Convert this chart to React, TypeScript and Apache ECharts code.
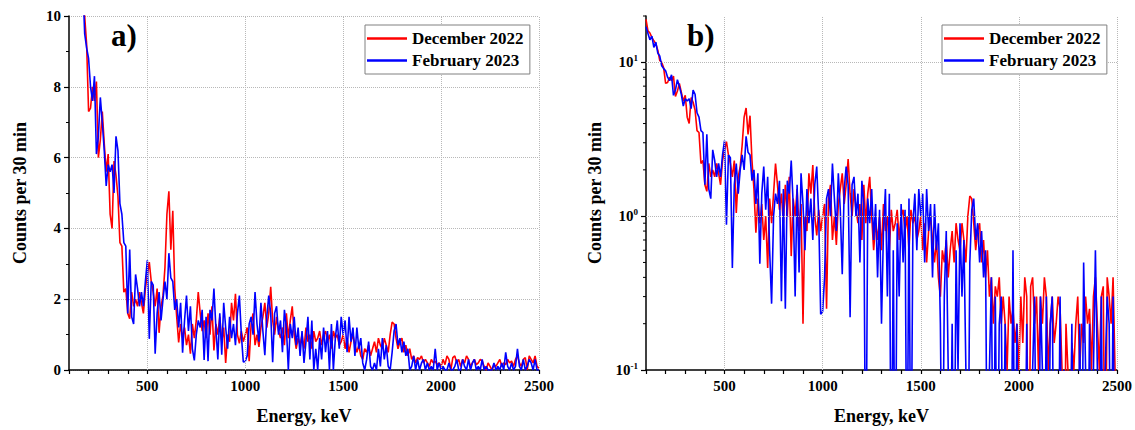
import React, { useEffect, useRef } from "react";
import * as echarts from "echarts";

// Energy bins: 100 keV .. 2500 keV, 10 keV step
const E_START = 100;
const E_STEP = 10;

// December 2022 (red), counts per 30 min
const DEC_2022 = [
  19, 16, 15.5, 14.5, 13.8, 13.2, 12, 10.3, 10.0, 9.2,
  7.3, 7.4, 8.0, 7.6, 8.15, 6.0, 6.5, 7.3, 6.4, 5.6,
  6.1, 4.4, 4.0, 5.9, 5.5, 4.9, 3.6, 3.5, 2.2, 2.3,
  1.6, 1.45, 2.2, 1.8, 2.0, 1.8, 2.2, 1.9, 1.6, 2.3,
  2.7, 3.05, 2.5, 2.2, 1.8, 2.3, 1.05, 1.8, 2.1, 2.9,
  4.4, 5.05, 3.4, 4.5, 2.3, 1.5, 0.78, 1.3, 0.9, 1.2,
  0.7, 1.0, 0.46, 1.3, 0.9, 1.4, 2.2, 1.6, 1.1, 1.4,
  0.9, 1.6, 1.0, 1.8, 0.55, 1.3, 1.0, 1.5, 0.8, 1.2,
  0.2, 1.0, 0.8, 1.9, 1.4, 2.15, 1.0, 0.75, 1.1, 0.8,
  1.0, 1.2, 0.25, 1.3, 1.6, 0.7, 1.0, 0.65, 1.2, 1.5,
  1.9, 1.2, 1.6, 2.35, 1.4, 1.0, 1.5, 1.1, 0.9, 1.2,
  0.7, 1.6, 0.9, 1.4, 1.8, 1.0, 0.6, 0.9, 0.7, 1.0,
  0.6, 1.2, 0.8, 1.0, 0.6, 1.1, 0.8, 0.9, 1.1, 0.7,
  1.0, 1.1, 0.8, 1.0, 0.6, 1.1, 0.9, 1.0, 0.7, 0.8,
  1.0, 0.6, 0.9, 0.5, 0.8, 1.0, 0.7, 0.5, 0.7, 0.4,
  0.3, 0.6, 0.5, 0.7, 0.4, 0.6, 0.8, 0.5, 0.9, 0.7,
  0.6, 0.9, 0.7, 0.5, 1.0, 1.35, 1.3, 0.9, 0.6, 0.8,
  0.9, 0.5, 0.7, 0.4, 0.6, 0.3, 0.4, 0.2, 0.35, 0.3,
  0.4, 0.2, 0.3, 0.2, 0.1, 0.3, 0.2, 0.25, 0.15, 0.2,
  0.1, 0.3, 0.15, 0.4, 0.3, 0.0, 0.35, 0.4, 0.2, 0.3,
  0.1, 0.3, 0.2, 0.4, 0.3, 0.1, 0.2, 0.3, 0.15, 0.2,
  0.3, 0.25, 0.1, 0.0, 0.2, 0.1, 0.0, 0.15, 0.1, 0.2,
  0.3, 0.1, 0.2, 0.15, 0.3, 0.2, 0.25, 0.1, 0.3, 0.4,
  0.2, 0.1, 0.3, 0.35, 0.0, 0.4, 0.3, 0.2, 0.4, 0.1,
  0.05,
];

// February 2023 (blue), counts per 30 min
const FEB_2023 = [
  17, 15.4, 14, 14.8, 12.5, 13.5, 11.5, 11, 9.5, 9.1,
  8.8, 8.0, 7.6, 8.3, 6.1, 6.6, 7.7, 7.0, 6.2, 5.2,
  5.8, 5.6, 5.8, 5.0, 6.6, 6.2, 4.7, 4.4, 3.6, 3.5,
  1.6, 3.4, 1.5, 1.3, 2.7, 2.3, 1.8, 2.2, 1.8, 2.5,
  3.1, 0.88, 2.5, 2.4, 0.46, 1.6, 2.2, 1.4, 2.0, 2.5,
  2.0, 3.3, 2.6, 2.5, 1.7, 2.0, 1.2, 1.9, 0.49, 1.4,
  2.1, 1.1, 1.8, 0.6, 0.27, 1.0, 1.4, 1.2, 1.7, 0.28,
  1.5, 0.25, 1.7, 1.4, 2.3, 1.2, 0.3, 1.6, 0.43, 1.9,
  1.2, 0.6, 1.5, 0.9, 1.3, 0.7, 1.6, 2.1, 1.0, 0.23,
  0.24, 0.4, 1.3, 1.5, 1.0, 2.2, 1.3, 0.8, 1.9, 1.1,
  0.42, 1.5, 2.1, 1.6, 0.22, 1.6, 1.8, 1.0, 1.4, 0.5,
  1.7, 1.2, 0.0, 1.3, 0.9, 1.5, 0.7, 1.2, 0.4, 1.1,
  0.2, 0.8, 1.5, 0.3, 1.4, 0.0, 0.6, 0.0, 0.9, 0.3,
  1.2, 0.5, 1.1, 0.0, 1.3, 0.0, 0.9, 1.4, 0.6, 1.5,
  1.0, 1.4, 0.5, 1.5, 0.8, 1.2, 0.4, 1.2, 0.6, 0.9,
  0.2, 0.0, 0.3, 0.8, 0.1, 0.0, 0.2, 0.0, 0.6, 0.1,
  0.9, 0.3, 0.7, 0.1, 0.0, 0.5, 1.1, 1.3, 0.7, 0.9,
  0.5, 0.8, 0.4, 0.6, 0.0, 0.1, 0.4, 0.0, 0.3, 0.0,
  0.2, 0.3, 0.0, 0.2, 0.0, 0.1, 0.0, 0.6, 0.0, 0.2,
  0.0, 0.1, 0.0, 0.0, 0.2, 0.0, 0.0, 0.1, 0.3, 0.0,
  0.0, 0.3, 0.1, 0.0, 0.3, 0.0, 0.2, 0.3, 0.0, 0.1,
  0.0, 0.3, 0.0, 0.1, 0.0, 0.0, 0.0, 0.2, 0.0, 0.1,
  0.0, 0.2, 0.0, 0.5, 0.1, 0.0, 0.2, 0.0, 0.1, 0.6,
  0.1, 0.0, 0.3, 0.0, 0.1, 0.3, 0.2, 0.0, 0.3, 0.0,
  0.0,
];

const X_LABELS = [500, 1000, 1500, 2000, 2500];
const LOG_MINOR = [0.2, 0.3, 0.4, 0.5, 0.6, 0.7, 0.8, 0.9, 2, 3, 4, 5, 6, 7, 8, 9, 20];
const LOG_GRID = [1, 10];
const NAMES = ["December 2022", "February 2023"];

const FONT = '"Liberation Serif", "Times New Roman", serif';
const RED = "#ff0000";
const BLUE = "#0000ff";
const GRID_LINE = { type: "dotted", color: "#b8b8b8", width: 1 };

export default function App() {
  const ref = useRef<HTMLDivElement>(null);

  useEffect(() => {
    document.body.style.margin = "0";
    if (!ref.current) return;
    const chart = echarts.init(ref.current, undefined, { renderer: "svg" });

    const energies = DEC_2022.map((_, i) => E_START + i * E_STEP);
    const lin = (arr: number[]) => arr.map((v, i) => [energies[i], v]);
    const logd = (arr: number[]) => arr.map((v, i) => [energies[i], v > 0 ? v : 0.01]);

    const axisLine = { show: true, lineStyle: { color: "#000", width: 1.5 } };
    const labelStyle = { color: "#000", fontFamily: FONT, fontWeight: "bold" as const, fontSize: 15 };
    const nameStyle = { color: "#000", fontFamily: FONT, fontWeight: "bold" as const, fontSize: 18 };

    const xAxisBase = (gridIndex: number) => ({
      type: "value",
      gridIndex,
      min: 100,
      max: 2500,
      interval: 100,
      name: "Energy, keV",
      nameLocation: "middle",
      nameGap: 37,
      nameTextStyle: nameStyle,
      axisLine: { ...axisLine, onZero: false },
      axisTick: { show: true, inside: false, length: 4, lineStyle: { color: "#000", width: 1.2 } },
      axisLabel: {
        ...labelStyle,
        margin: 8,
        formatter: (v: number) => (X_LABELS.includes(v) ? String(v) : ""),
        showMinLabel: true,
        showMaxLabel: true,
      },
      splitLine: { show: false },
    });

    const vGridLines = X_LABELS.map((v) => ({ xAxis: v }));
    const hGridLines = LOG_GRID.map((v) => ({ yAxis: v }));

    const legendBase = (left: number) => ({
      show: true,
      data: NAMES,
      orient: "vertical",
      left,
      top: 25,
      z: 20,
      icon: "rect",
      itemWidth: 40,
      itemHeight: 2.5,
      itemGap: 5,
      padding: [5, 6, 5, 2],
      borderColor: "#808080",
      borderWidth: 1,
      backgroundColor: "#fff",
      textStyle: { color: "#000", fontFamily: FONT, fontWeight: "bold", fontSize: 17 },
      selectedMode: false,
    });

    chart.setOption({
      animation: false,
      backgroundColor: "#fff",
      grid: [
        { left: 69, top: 16, right: 596, bottom: 55, containLabel: false },
        { left: 646, top: 16, right: 18, bottom: 55, containLabel: false },
      ],
      legend: [legendBase(365), legendBase(942)],
      xAxis: [xAxisBase(0), xAxisBase(1)],
      yAxis: [
        {
          type: "value",
          gridIndex: 0,
          min: 0,
          max: 10,
          interval: 2,
          name: "Counts per 30 min",
          nameLocation: "middle",
          nameGap: 40,
          nameTextStyle: nameStyle,
          axisLine,
          axisTick: { show: true, inside: false, length: 5, lineStyle: { color: "#000", width: 1.2 } },
          minorTick: { show: true, splitNumber: 2, length: 3, lineStyle: { color: "#000", width: 1 } },
          axisLabel: { ...labelStyle, margin: 8 },
          splitLine: { show: true, lineStyle: GRID_LINE },
        },
        {
          type: "log",
          logBase: 10,
          gridIndex: 1,
          min: 0.1,
          max: 20,
          name: "Counts per 30 min",
          nameLocation: "middle",
          nameGap: 42,
          nameTextStyle: nameStyle,
          axisLine,
          axisTick: { show: true, inside: false, length: 5, lineStyle: { color: "#000", width: 1.2 } },
          axisLabel: {
            ...labelStyle,
            margin: 8,
            showMaxLabel: false,
            formatter: (v: number) => {
              const e = Math.log10(v);
              if (Math.abs(e - Math.round(e)) > 1e-6) return "";
              return "{b|10}{s|" + Math.round(e) + "}";
            },
            rich: {
              b: { fontFamily: FONT, fontWeight: "bold", fontSize: 15, color: "#000" },
              s: { fontFamily: FONT, fontWeight: "bold", fontSize: 9, color: "#000", padding: [0, 0, 9, 0] },
            },
          },
          splitLine: { show: false },
        },
      ],
      series: [
        {
          type: "line",
          name: "grid-a",
          xAxisIndex: 0,
          yAxisIndex: 0,
          data: [],
          z: 1,
          silent: true,
          markLine: { silent: true, symbol: ["none", "none"], label: { show: false }, lineStyle: GRID_LINE, data: vGridLines, animation: false },
        },
        {
          type: "line",
          name: NAMES[0],
          xAxisIndex: 0,
          yAxisIndex: 0,
          data: lin(DEC_2022),
          showSymbol: false,
          lineStyle: { color: RED, width: 1.6 },
          itemStyle: { color: RED },
          z: 2,
        },
        {
          type: "line",
          name: NAMES[1],
          xAxisIndex: 0,
          yAxisIndex: 0,
          data: lin(FEB_2023),
          showSymbol: false,
          lineStyle: { color: BLUE, width: 1.6 },
          itemStyle: { color: BLUE },
          z: 3,
        },
        {
          type: "line",
          name: "grid-b",
          xAxisIndex: 1,
          yAxisIndex: 1,
          data: [],
          z: 1,
          silent: true,
          markLine: {
            silent: true,
            symbol: ["none", "none"],
            label: { show: false },
            lineStyle: GRID_LINE,
            data: [...vGridLines, ...hGridLines],
            animation: false,
          },
        },
        {
          type: "line",
          name: NAMES[0],
          xAxisIndex: 1,
          yAxisIndex: 1,
          data: logd(DEC_2022),
          showSymbol: false,
          lineStyle: { color: RED, width: 1.6 },
          itemStyle: { color: RED },
          z: 2,
        },
        {
          type: "line",
          name: NAMES[1],
          xAxisIndex: 1,
          yAxisIndex: 1,
          data: logd(FEB_2023),
          showSymbol: false,
          lineStyle: { color: BLUE, width: 1.6 },
          itemStyle: { color: BLUE },
          z: 3,
        },
        {
          type: "custom",
          name: "log-minor",
          xAxisIndex: 1,
          yAxisIndex: 1,
          silent: true,
          clip: false,
          data: LOG_MINOR.map((v) => [100, v]),
          renderItem: (_params: any, api: any) => {
            const p = api.coord([api.value(0), api.value(1)]);
            return {
              type: "line",
              shape: { x1: p[0] - 3, y1: p[1], x2: p[0], y2: p[1] },
              style: { stroke: "#000", lineWidth: 1 },
            };
          },
        },
      ],
      graphic: [
        { type: "text", left: 111, top: 20, z: 20, style: { text: "a)", font: `bold 31px ${FONT}`, fill: "#000" } },
        { type: "text", left: 687, top: 20, z: 20, style: { text: "b)", font: `bold 31px ${FONT}`, fill: "#000" } },
      ],
    });

    return () => chart.dispose();
  }, []);

  return <div ref={ref} style={{ width: 1135, height: 430 }} />;
}
